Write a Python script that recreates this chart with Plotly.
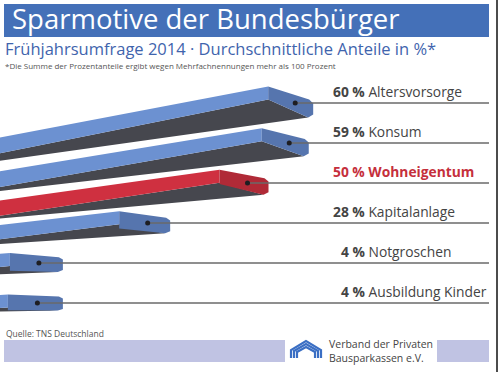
import plotly.graph_objects as go

# ---------------- data ----------------
categories = ["Altersvorsorge", "Konsum", "Wohneigentum", "Kapitalanlage", "Notgroschen", "Ausbildung Kinder"]
values = [60, 59, 50, 28, 4, 4]
highlighted = ["Wohneigentum"]

title = "Sparmotive der Bundesbürger"
subtitle = "Frühjahrsumfrage 2014 · Durchschnittliche Anteile in %*"
footnote = "*Die Summe der Prozentanteile ergibt wegen Mehrfachnennungen mehr als 100 Prozent"
source = "Quelle: TNS Deutschland"
logo_lines = ["Verband der Privaten", "Bausparkassen e.V."]

# ---------------- layout constants (pixels) ----------------
W, H = 499, 372
X0, XS = 45.0, 4.47          # pixel of value 0 and pixels per percentage point
ROW0, ROWSTEP = 103.0, 40.0  # first label line and spacing between rows

def px2v(px):
    return (px - X0) / XS

def pxx(x):
    return x / W

def pxy(y):
    return 1 - y / H

BLUE_TOP, BLUE_CAP = "#6c91d1", "#5675ae"
RED_TOP, RED_CAP = "#cf3040", "#b02a37"
DARK = "#46474e"
TXT = "#444444"

fig = go.Figure()

for i, (cat, v) in enumerate(zip(categories, values)):
    hi = cat in highlighted
    f = (31 - 3 * i) / 31.0
    cap_h = 31 * f
    t1 = 13.0
    s = 0.19 - 0.025 * i
    sb = s - 0.05
    cs = 13 - 2.2 * i
    k = min(1.0, max(0.1, 1.6 - 0.35 * i))
    yc = ROW0 + ROWSTEP * i
    yt = yc - 0.53 * cap_h
    xe = X0 + XS * v
    cw = 45 + 2 * i
    xc = xe - cw
    xl = -20.0
    top_c = RED_TOP if hi else BLUE_TOP
    cap_c = RED_CAP if hi else BLUE_CAP

    # dark under/side face
    dx = [xl, xc, xe - 5, xl, xl]
    dy = [yt + t1 + (s + 0.01) * (xc - xl), yt + t1, yt + cap_h,
          yt + cap_h + sb * (xe - 5 - xl), yt + t1 + (s + 0.01) * (xc - xl)]
    fig.add_trace(go.Scatter(x=[px2v(a) for a in dx], y=dy, fill="toself", fillcolor=DARK,
                             mode="lines", line=dict(width=0, color=DARK), hoverinfo="skip", showlegend=False))
    # top face
    tx = [xl, xc, xc, xl, xl]
    ty = [yt + s * (xc - xl), yt, yt + t1, yt + t1 + (s + 0.01) * (xc - xl), yt + s * (xc - xl)]
    fig.add_trace(go.Scatter(x=[px2v(a) for a in tx], y=ty, fill="toself", fillcolor=top_c,
                             mode="lines", line=dict(width=0, color=top_c), hoverinfo="skip", showlegend=False))
    # end cap
    bl = yt + cap_h - (cap_h - t1) * k
    cx = [xc, xe - 4, xe, xe, xe - 5, xc, xc]
    cy = [yt, yt + cs, yt + cs + 4 * f, yt + cap_h - 3 * f, yt + cap_h, bl, yt]
    fig.add_trace(go.Scatter(x=[px2v(a) for a in cx], y=cy, fill="toself", fillcolor=cap_c,
                             mode="lines", line=dict(width=0, color=cap_c), hoverinfo="skip", showlegend=False))
    # leader line + dot
    xd = xe - (18 + 1.5 * i)
    fig.add_trace(go.Scatter(x=[px2v(xd), px2v(489)], y=[yc, yc], mode="lines",
                             line=dict(color="#6a6a6a", width=1.3), hoverinfo="skip", showlegend=False))
    fig.add_trace(go.Scatter(x=[px2v(xd)], y=[yc], mode="markers",
                             marker=dict(color="#1e1e22", size=5), hoverinfo="skip", showlegend=False))
    # label
    if hi:
        txt = f"<b>{v} % {cat}</b>"
        col = "#c52f3c"
    else:
        txt = f"<b>{v} %</b> {cat}"
        col = TXT
    lx = 332 + (2 - len(str(v))) * 8
    fig.add_annotation(x=pxx(lx), xref="paper", y=yc - 1, yref="y", text=txt, showarrow=False,
                       xanchor="left", yanchor="bottom", font=dict(family="Open Sans", size=13.8, color=col),
                       borderpad=0)

shapes = []
# title band
shapes.append(dict(type="rect", xref="paper", yref="paper", x0=pxx(4), x1=pxx(489), y0=pxy(37), y1=pxy(4),
                   fillcolor="#4470b8", line=dict(width=0), layer="below"))
# footer bands
shapes.append(dict(type="rect", xref="paper", yref="paper", x0=pxx(4), x1=pxx(285), y0=pxy(362), y1=pxy(340),
                   fillcolor="#c0c3e3", line=dict(width=0), layer="below"))
shapes.append(dict(type="rect", xref="paper", yref="paper", x0=pxx(437), x1=pxx(489), y0=pxy(362), y1=pxy(340),
                   fillcolor="#c0c3e3", line=dict(width=0), layer="below"))
# right frame line
shapes.append(dict(type="line", xref="paper", yref="paper", x0=pxx(497), x1=pxx(497), y0=0, y1=1,
                   line=dict(color="#111111", width=1.5)))

# logo (nested house outlines)
def path(pts):
    return "M " + " L ".join(f"{pxx(a):.4f},{pxy(b):.4f}" for a, b in pts)

for (l, r, b, e, p) in [(291, 321, 358, 350, 341), (294, 318, 358, 351, 344), (297, 315, 358, 352, 347)]:
    m = (l + r) / 2
    shapes.append(dict(type="path", xref="paper", yref="paper",
                       path=path([(l, b), (l, e), (m, p), (r, e), (r, b)]),
                       line=dict(color="#3b6fc4", width=2.2)))
fig.update_layout(shapes=shapes)

fig.add_annotation(x=pxx(11), y=pxy(19), xref="paper", yref="paper", text=title, showarrow=False,
                   xanchor="left", yanchor="middle", font=dict(family="Open Sans", size=27.5, color="white"),
                   borderpad=0)
fig.add_annotation(x=pxx(4), y=pxy(48), xref="paper", yref="paper", text=subtitle, showarrow=False,
                   xanchor="left", yanchor="middle", font=dict(family="Open Sans", size=16.5, color="#3f64ad"),
                   borderpad=0)
fig.add_annotation(x=pxx(4), y=pxy(65), xref="paper", yref="paper", text=footnote, showarrow=False,
                   xanchor="left", yanchor="middle", font=dict(family="Open Sans", size=8, color="#555555"),
                   borderpad=0)
fig.add_annotation(x=pxx(4), y=pxy(333), xref="paper", yref="paper", text=source, showarrow=False,
                   xanchor="left", yanchor="middle", font=dict(family="Open Sans", size=8.5, color="#555555"))
fig.add_annotation(x=pxx(327), y=pxy(351), xref="paper", yref="paper", text="<br>".join(logo_lines),
                   showarrow=False, xanchor="left", yanchor="middle", align="left",
                   font=dict(family="Open Sans", size=10.5, color="#444444"))

fig.update_layout(
    width=W, height=H, margin=dict(l=0, r=0, t=0, b=0),
    paper_bgcolor="white", plot_bgcolor="white",
    xaxis=dict(range=[px2v(0), px2v(W)], visible=False, fixedrange=True),
    yaxis=dict(range=[H, 0], visible=False, fixedrange=True),
    showlegend=False,
)

fig.write_html("out.html", config={"displayModeBar": False},
               post_script="document.body.style.margin='0';")
